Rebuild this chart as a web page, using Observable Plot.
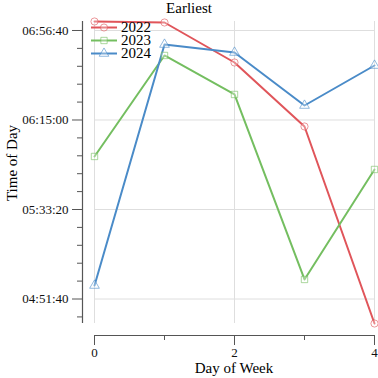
<!DOCTYPE html>
<html><head><meta charset="utf-8">
<script src="https://cdn.jsdelivr.net/npm/d3@7"></script>
<script src="https://cdn.jsdelivr.net/npm/@observablehq/plot@0.6"></script>
<style>
html,body{margin:0;padding:0;background:#fff;}
#wrap{position:relative;width:378px;height:378px;font-family:"Liberation Serif",serif;}
#wrap svg{position:absolute;left:0;top:0;}
</style></head>
<body><div id="wrap"></div>
<script>
const days = [0, 1, 2, 3, 4];
const series = ["2022", "2023", "2024"];
const t2022 = ["07:00:51", "07:00:23", "06:41:46", "06:11:59", "04:40:16"];
const t2023 = ["05:58:01", "06:45:02", "06:26:53", "05:00:46", "05:51:58"];
const t2024 = ["04:57:58", "06:50:09", "06:46:26", "06:21:45", "06:40:22"];
const yMajorTicks = ["04:51:40", "05:33:20", "06:15:00", "06:56:40"];
const xMajorTicks = [0, 2, 4];
const xMinorTicks = [1, 3];
const colors = ["#e0555a", "#74be60", "#4a8bc8"];
const symbols = ["circle", "square", "triangle"];

const toSec = s => { const [h, m, x] = s.split(":").map(Number); return h * 3600 + m * 60 + x; };
const fmt = v => { v = Math.round(v); const h = Math.floor(v / 3600), m = Math.floor((v % 3600) / 60), s = v % 60; return [h, m, s].map(d => String(d).padStart(2, "0")).join(":"); };

const raw = [t2022, t2023, t2024];
const data = [];
series.forEach((name, i) => days.forEach((d, j) => data.push({series: name, day: d, t: toSec(raw[i][j])})));
const yMin = d3.min(data, d => d.t), yMax = d3.max(data, d => d.t);
const yMajor = yMajorTicks.map(toSec);
const step = (yMajor[1] - yMajor[0]) / 5;
const yMinor = d3.range(yMajor[0] - 5 * step, yMax + 1, step).filter(v => v >= yMin && v <= yMax && !yMajor.some(m => Math.abs(m - v) < 1));

const font = "Liberation Serif";
const chart = Plot.plot({
  width: 378, height: 378,
  marginLeft: 82, marginRight: 4, marginTop: 21, marginBottom: 43,
  style: {fontFamily: font, fontSize: "13px", background: "transparent"},
  x: {domain: [0, 4], insetLeft: 12},
  y: {domain: [yMin, yMax], insetBottom: 12},
  color: {domain: series, range: colors},
  marks: [
    Plot.ruleY(yMajor, {x1: 0, x2: 4, stroke: "#dedede", strokeWidth: 1}),
    Plot.ruleX(xMajorTicks, {y1: yMin, y2: yMax, stroke: "#dedede", strokeWidth: 1}),
    Plot.ruleX([0], {y1: yMin, y2: yMax, dx: -12, stroke: "#555", strokeWidth: 1.2}),
    Plot.ruleY([yMin], {x1: 0, x2: 4, dy: 12, stroke: "#555", strokeWidth: 1.2}),
    Plot.axisY(yMajor, {tickSize: 10, tickPadding: 4, tickFormat: fmt, label: null, stroke: "#555", fontSize: 13, fill: "#111"}),
    Plot.axisY(yMinor, {tickSize: 5, tickFormat: () => "", label: null, stroke: "#555"}),
    Plot.axisX(xMajorTicks, {tickSize: 10, tickPadding: 2, tickFormat: d => String(d), label: null, stroke: "#555", fontSize: 13, fill: "#111"}),
    Plot.axisX(xMinorTicks, {tickSize: 5, tickFormat: () => "", label: null, stroke: "#555"}),
    Plot.line(data, {x: "day", y: "t", z: "series", stroke: "series", strokeWidth: 2}),
    ...series.map((s, i) => Plot.dot(data.filter(d => d.series === s), {x: "day", y: "t", symbol: () => symbols[i], r: 3.6, stroke: colors[i], strokeOpacity: 0.6, fill: "white", fillOpacity: 0.3, strokeWidth: 1}))
  ]
});
const wrap = document.getElementById("wrap");
wrap.appendChild(chart);

// overlay: title, axis labels, legend
const ov = d3.select(wrap).append("svg").attr("width", 378).attr("height", 378)
  .style("font-family", font);
ov.append("text").attr("x", 189).attr("y", 13).attr("text-anchor", "middle").attr("font-size", 15).text("Earliest");
ov.append("text").attr("x", 234).attr("y", 373).attr("text-anchor", "middle").attr("font-size", 15).text("Day of Week");
ov.append("text").attr("transform", "translate(17,163) rotate(-90)").attr("text-anchor", "middle").attr("font-size", 15).text("Time of Day");
const symPaths = [d3.symbolCircle, d3.symbolSquare, d3.symbolTriangle];
series.forEach((s, i) => {
  const y = 27.5 + i * 13;
  const g = ov.append("g");
  g.append("line").attr("x1", 91).attr("x2", 117).attr("y1", y).attr("y2", y).attr("stroke", colors[i]).attr("stroke-width", 2);
  g.append("path").attr("d", d3.symbol(symPaths[i], 40)()).attr("transform", `translate(104,${y})`).attr("fill", "white").attr("fill-opacity", 0.3).attr("stroke", colors[i]).attr("stroke-opacity", 0.6);
  g.append("text").attr("x", 121).attr("y", y).attr("dy", "0.32em").attr("font-size", 15).text(s);
});
</script></body></html>
